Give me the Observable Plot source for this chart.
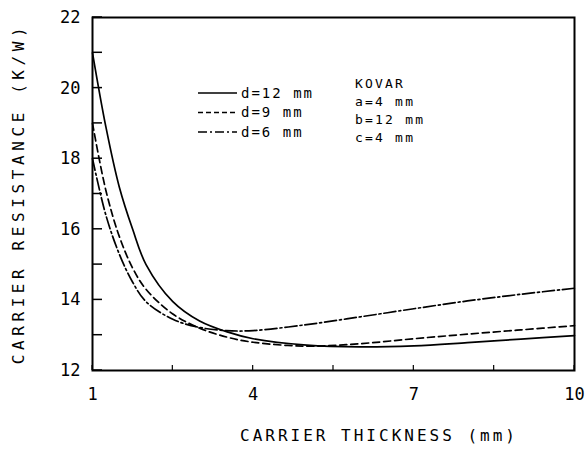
<!DOCTYPE html>
<html>
<head>
<meta charset="utf-8">
<script src="https://cdn.jsdelivr.net/npm/d3@7"></script>
<script src="https://cdn.jsdelivr.net/npm/@observablehq/plot@0.6"></script>
<style>
  html, body { margin: 0; padding: 0; background: #fff; }
  svg { font-family: "DejaVu Sans Mono", monospace; }
</style>
</head>
<body>
<div id="chart"></div>
<script>
// Carrier thickness (mm)
const thickness = [1, 1.25, 1.5, 1.75, 2, 2.5, 3, 3.5, 4, 5, 6, 7, 8, 9, 10];
// Carrier resistance (K/W) for each spacing d
const d12 = [21.0, 18.9, 17.2, 16.0, 15.0, 13.95, 13.4, 13.1, 12.9, 12.72, 12.67, 12.70, 12.79, 12.89, 12.99];
const d9  = [19.0, 17.1, 15.8, 14.9, 14.3, 13.6, 13.2, 12.95, 12.8, 12.69, 12.76, 12.9, 13.03, 13.15, 13.27];
const d6  = [18.0, 16.4, 15.3, 14.5, 13.95, 13.45, 13.22, 13.13, 13.13, 13.3, 13.52, 13.75, 13.97, 14.16, 14.33];
const seriesNames = ["d=12 mm", "d=9 mm", "d=6 mm"];
const dashes = [null, "7,4", "12,3,2,3"];
const xTickLabels = [1, 4, 7, 10];
const xTicks = [1, 2.5, 4, 5.5, 7, 8.5, 10];
const yTickLabels = [12, 14, 16, 18, 20, 22];
const yTicks = [12, 13, 14, 15, 16, 17, 18, 19, 20, 21, 22];
const notes = ["KOVAR", "a=4 mm", "b=12 mm", "c=4 mm"];
const xTitle = "CARRIER THICKNESS (mm)";
const yTitle = "CARRIER RESISTANCE (K/W)";

const seriesValues = [d12, d9, d6];
const rows = seriesValues.map((vals, i) => thickness.map((t, j) => ({t, r: vals[j], s: seriesNames[i]})));

const W = 586, H = 449;
const mL = 92, mR = 12, mT = 17, mB = 79;

const marks = [
  Plot.axisY(yTickLabels, {tickSize: 0, tickPadding: 12, fontSize: 17, label: null}),
  Plot.axisX(xTickLabels, {tickSize: 0, tickPadding: 17, fontSize: 17, label: null})
];
rows.forEach((data, i) => {
  marks.push(Plot.line(data, {x: "t", y: "r", curve: "catmull-rom", stroke: "#000", strokeWidth: 1.7, strokeDasharray: dashes[i]}));
});
marks.push(Plot.frame({stroke: "#000", strokeWidth: 2}));

const chart = Plot.plot({
  width: W, height: H,
  marginLeft: mL, marginRight: mR, marginTop: mT, marginBottom: mB,
  x: {domain: [1, 10]},
  y: {domain: [12, 22]},
  style: {fontFamily: "DejaVu Sans Mono, monospace", color: "#000", background: "#fff"},
  marks
});
document.getElementById("chart").appendChild(chart);

const sx = chart.scale("x"), sy = chart.scale("y");
const svg = d3.select(chart);
// inward ticks
const tg = svg.append("g").attr("stroke", "#000");
yTicks.forEach(v => {
  const y = sy.apply(v);
  tg.append("line").attr("x1", sx.apply(1)).attr("x2", sx.apply(1) + 10).attr("y1", y).attr("y2", y).attr("stroke-width", 1.5);
});
xTicks.forEach(v => {
  const x = sx.apply(v);
  tg.append("line").attr("x1", x).attr("x2", x).attr("y1", sy.apply(12)).attr("y2", sy.apply(12) - 5).attr("stroke-width", 1.2);
});

// axis titles
const yMid = (sy.apply(12) + sy.apply(22)) / 2;
svg.append("text").attr("x", 379).attr("y", 441).attr("text-anchor", "middle")
  .attr("font-size", 16).attr("letter-spacing", 3).text(xTitle);
svg.append("text").attr("transform", `translate(24,${yMid}) rotate(-90)`).attr("text-anchor", "middle")
  .attr("font-size", 16).attr("letter-spacing", 4.6).text(yTitle);

// legend
const lg = svg.append("g").attr("font-size", 14).attr("text-anchor", "start").attr("letter-spacing", 2);
seriesNames.forEach((name, i) => {
  const y = 93 + i * 19.5;
  lg.append("line").attr("x1", 198).attr("x2", 237).attr("y1", y).attr("y2", y)
    .attr("stroke", "#000").attr("stroke-width", 1.5).attr("stroke-dasharray", dashes[i] ? (i === 1 ? "5,3" : "9,3,2,3") : null);
  lg.append("text").attr("x", 241).attr("y", y).attr("dy", "0.35em").text(name);
});
const ng = svg.append("g").attr("font-size", 13).attr("text-anchor", "start").attr("letter-spacing", 2.2);
notes.forEach((n, i) => {
  ng.append("text").attr("x", 355).attr("y", 83 + i * 18).attr("dy", "0.35em").text(n);
});
</script>
</body>
</html>
